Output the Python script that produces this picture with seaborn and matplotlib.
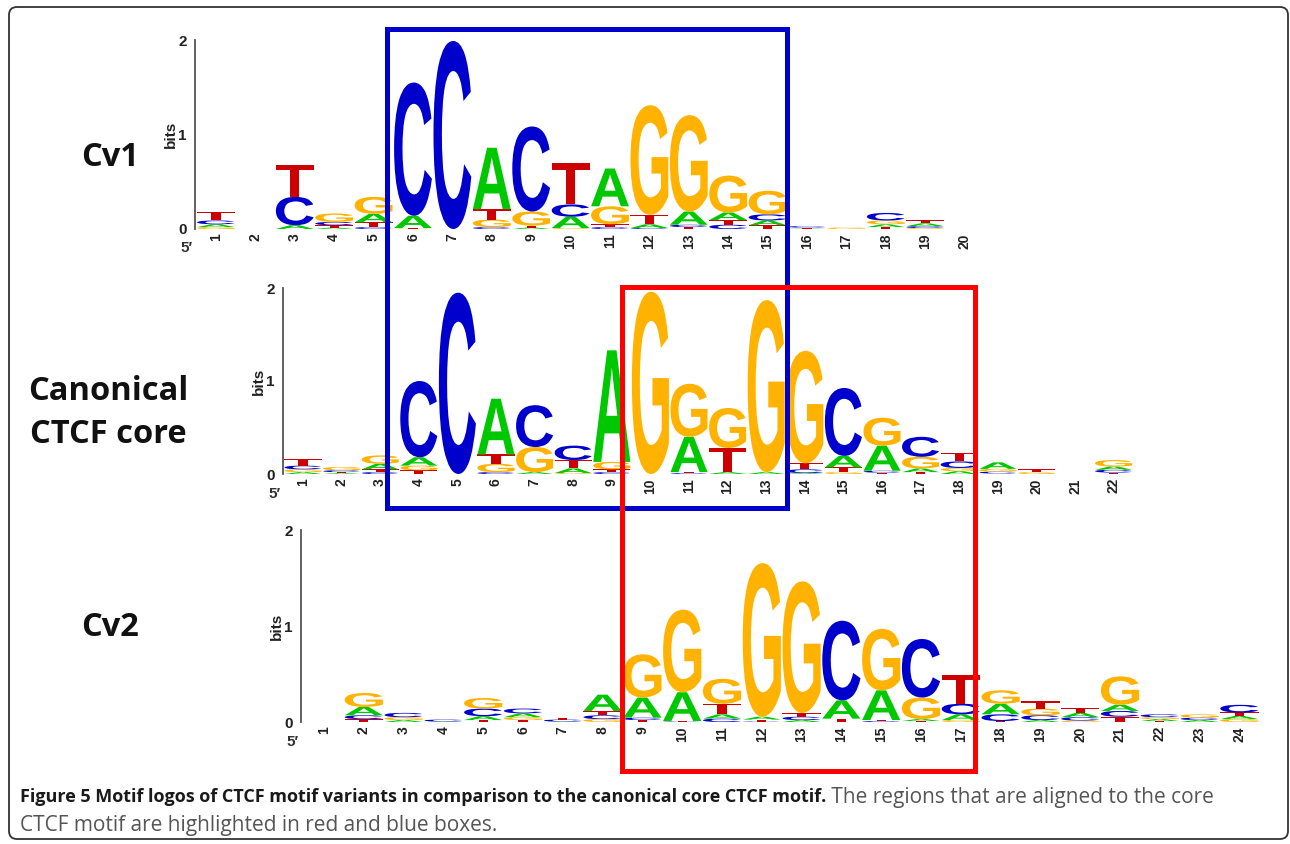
import matplotlib
matplotlib.use("Agg")
import matplotlib.pyplot as plt
import seaborn as sns
from matplotlib.textpath import TextPath
from matplotlib.patches import PathPatch, FancyBboxPatch, Rectangle
from matplotlib.font_manager import FontProperties
from matplotlib.transforms import Affine2D

sns.set_style("white")
plt.rcParams['font.family'] = ['Liberation Sans', 'DejaVu Sans']

CV1_POS = list(range(1, 21))
CV1_A = [.03, 0, .04, .015, .09, .13, 0, .65, .015, .12, .40, .04, .14, .08, .05, .005, 0, .03, .03, 0]
CV1_C = [.04, 0, .30, .035, .02, 1.41, 1.99, .02, .90, .13, .02, .01, .025, .045, .065, .015, 0, .08, .02, 0]
CV1_G = [.02, 0, 0, .09, .18, .005, 0, .08, .15, .01, .19, 1.16, 1.02, .39, .25, 0, .015, .04, .01, 0]
CV1_T = [.09, 0, .335, .025, .05, .005, 0, .11, .02, .44, .03, .10, .02, .05, .04, .01, 0, .02, .035, 0]

CORE_POS = list(range(1, 23))
CORE_A = [.02, .01, .06, .09, 0, .60, .02, .05, 1.20, 0, .38, .02, .02, .01, .125, .27, .04, .03, .07, 0, 0, .035]
CORE_C = [.04, .02, .02, .82, 1.95, .02, .45, .155, .02, 0, .01, 0, 0, .04, .73, .02, .215, .07, .02, 0, 0, .03]
CORE_G = [.03, .035, .09, .05, 0, .09, .27, .01, .08, 1.96, .57, .43, 1.85, 1.21, .02, .30, .125, .035, .03, .02, 0, .07]
CORE_T = [.07, .01, .03, .04, 0, .10, 0, .09, .03, 0, .01, .26, 0, .065, .05, .015, .02, .09, .005, .03, 0, .015]

CV2_POS = list(range(1, 25))
CV2_A = [0, .087, .02, .005, .04, .04, .005, .17, .21, .30, .045, .03, .02, .19, .31, .02, .06, .11, .02, .045, .065, .02, .02, .033]
CV2_C = [0, .04, .045, .02, .08, .05, .02, .04, .025, .005, .035, .005, .035, .83, .01, .61, .11, .07, .05, .035, .06, .03, .025, .08]
CV2_G = [0, .145, .03, 0, .11, .03, 0, .03, .45, .86, .26, 1.60, 1.37, 0, .64, .225, .02, .14, .07, .015, .295, .02, .035, .03]
CV2_T = [0, .03, 0, 0, .02, .02, .02, .045, .02, .005, .11, .02, .04, .035, .01, .01, .295, .01, .075, .05, .055, .01, 0, .036]

MOTIF_NAMES = ['Cv1', 'Canonical\nCTCF core', 'Cv2']

LETTERS = ['A', 'C', 'G', 'T']
COLORS = {'A': '#00c800', 'C': '#0000cc', 'G': '#ffb300', 'T': '#cc0000'}
LOGO_FONT = FontProperties(family='Liberation Sans', weight='bold')

W, H = 1290, 844
GLYPHS = {}
for letter in LETTERS:
    tp = TextPath((0, 0), letter, size=1, prop=LOGO_FONT)
    GLYPHS[letter] = (tp, tp.get_extents())


def draw_letter(ax, letter, x, y0, h, width=0.96):
    tp, bb = GLYPHS[letter]
    tr = (Affine2D().translate(-bb.x0, -bb.y0)
          .scale(width / bb.width, h / bb.height)
          .translate(x - width / 2, y0))
    ax.add_patch(PathPatch(tp, transform=tr + ax.transData,
                           fc=COLORS[letter], ec='none', lw=0, clip_on=False))


def logo_axes(fig, spine_x, y0, y2, first_x, step, n):
    # place an axes in pixel terms so that position 1 sits at first_x
    xmin = 1 - (first_x - spine_x) / step
    xmax = n + 0.5
    ax = fig.add_axes([spine_x / W, 1 - y0 / H, (xmax - xmin) * step / W, (y0 - y2) / H])
    ax.set_xlim(xmin, xmax)
    ax.set_ylim(0, 2)
    ax.patch.set_alpha(0)
    return ax


def draw_logo(ax, pos, a, c, g, t):
    for i, p in enumerate(pos):
        stack = sorted(zip([a[i], c[i], g[i], t[i]], LETTERS))
        y = 0
        for h, letter in stack:
            if h > 0:
                draw_letter(ax, letter, p, y, h)
                y += h
    sns.despine(ax=ax, bottom=True)
    ax.spines['left'].set_bounds(0, 2)
    ax.spines['left'].set_color('#555555')
    ax.spines['left'].set_linewidth(1.3)
    ax.set_yticks([0, 1, 2])
    ax.set_yticklabels(['0', '1', '2'], fontsize=11, fontweight='bold', color='#222222')
    ax.tick_params(axis='y', length=5, width=1.2, color='#555555', pad=1)
    ax.set_xticks(pos)
    ax.set_xticklabels([str(p) for p in pos], rotation=90, fontsize=10,
                       fontweight='bold', color='#222222')
    ax.tick_params(axis='x', length=0, pad=3)
    ax.set_ylabel('bits', fontsize=11, fontweight='bold', color='#222222', labelpad=0)
    ax.annotate('5\u2032', xy=(0, 0), xycoords='axes fraction', xytext=(-2, -9),
                textcoords='offset points', ha='right', va='top',
                fontsize=11, fontweight='bold', color='#333333')
    ax.annotate('3\u2032', xy=(pos[-1] + 0.65, 0), xycoords='data', xytext=(0, -9),
                textcoords='offset points', ha='left', va='top',
                fontsize=11, fontweight='bold', color='#333333')


fig = plt.figure(figsize=(W / 100, H / 100), dpi=100)

ax1 = logo_axes(fig, 195, 229, 40, 216, 39.4, len(CV1_POS))
draw_logo(ax1, CV1_POS, CV1_A, CV1_C, CV1_G, CV1_T)
ax2 = logo_axes(fig, 283, 474, 288, 303, 38.6, len(CORE_POS))
draw_logo(ax2, CORE_POS, CORE_A, CORE_C, CORE_G, CORE_T)
ax3 = logo_axes(fig, 301, 722, 530, 324, 39.8, len(CV2_POS))
draw_logo(ax3, CV2_POS, CV2_A, CV2_C, CV2_G, CV2_T)

# overlay in pixel coordinates for boxes, names, frame and caption
ov = fig.add_axes([0, 0, 1, 1], zorder=10)
ov.set_xlim(0, W)
ov.set_ylim(H, 0)
ov.axis('off')
ov.patch.set_alpha(0)

ov.add_patch(FancyBboxPatch((9, 7), 1279, 832, boxstyle='round,pad=0,rounding_size=8',
                            fc='none', ec='#333333', lw=1.3))
ov.add_patch(Rectangle((387, 29), 400, 479, fc='none', ec='#0000cc', lw=3.6))
ov.add_patch(Rectangle((622, 287), 353, 484, fc='none', ec='#ff0000', lw=3.6))

name_font = ['Open Sans', 'DejaVu Sans']
for name, (x, y) in zip(MOTIF_NAMES, [(110, 157), (108, 413), (110, 627)]):
    ov.text(x, y, name, ha='center', va='center', fontsize=23.5, fontweight='bold',
            family=name_font, color='#111111', linespacing=1.4)

cap_bold = 'Figure 5 Motif logos of CTCF motif variants in comparison to the canonical core CTCF motif.'
cap_rest = ' The regions that are aligned to the core'
cap_line2 = 'CTCF motif are highlighted in red and blue boxes.'
t1 = ov.text(20, 797, cap_bold, ha='left', va='center', fontsize=13, fontweight='bold',
             family=name_font, color='#1a1a1a')
fig.canvas.draw()
bb = t1.get_window_extent(fig.canvas.get_renderer())
ov.text(bb.x1, 797, cap_rest, ha='left', va='center', fontsize=15,
        family=name_font, color='#555555')
ov.text(20, 825, cap_line2, ha='left', va='center', fontsize=15,
        family=name_font, color='#555555')

fig.savefig('out.png', dpi=100)
